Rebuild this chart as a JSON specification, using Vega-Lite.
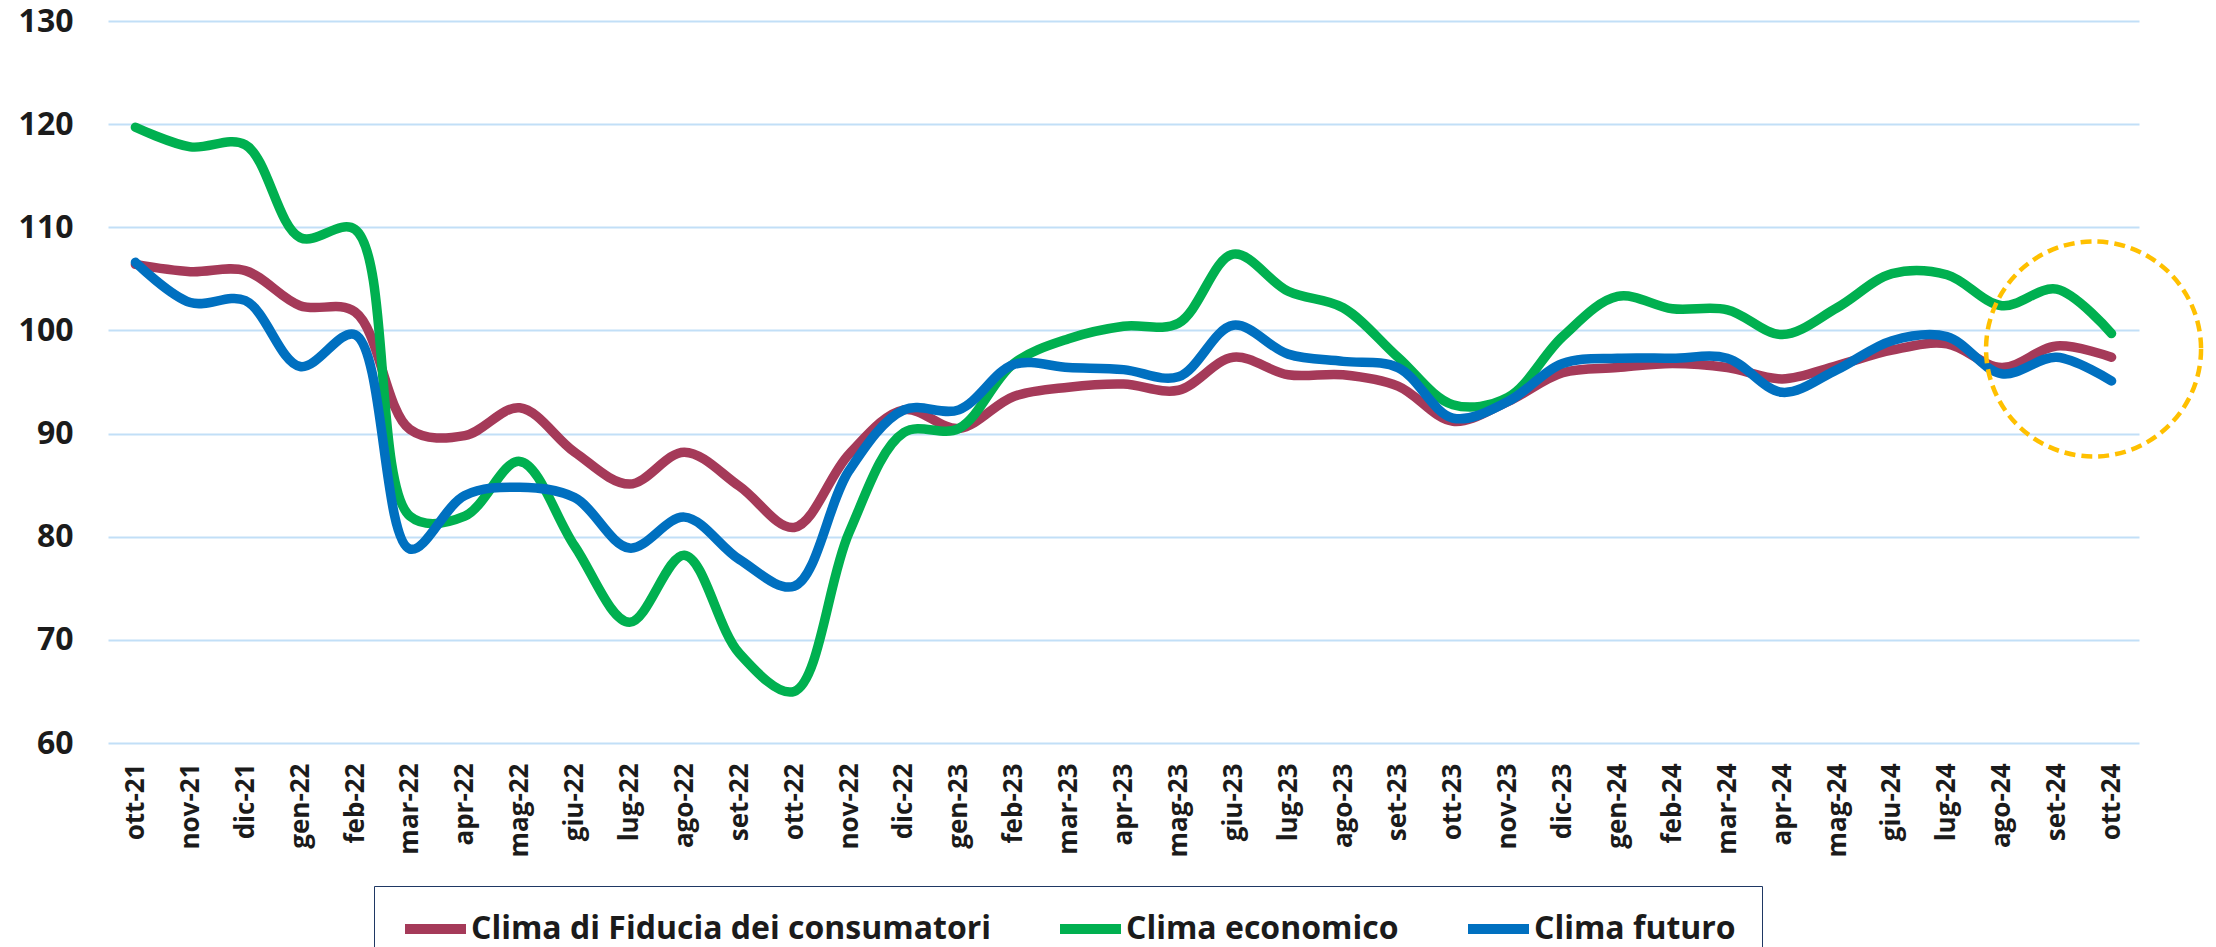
{
  "$schema": "https://vega.github.io/schema/vega-lite/v6.json",
  "autosize": {"type": "none"},
  "width": 2031,
  "height": 722,
  "padding": {"left": 108, "top": 21, "right": 77, "bottom": 204},
  "background": "white",
  "config": {"view": {"stroke": null}},
  "datasets": {
    "serie": [
      {"mese": "ott-21", "serie": "Clima di Fiducia dei consumatori", "valore": 106.4},
      {"mese": "nov-21", "serie": "Clima di Fiducia dei consumatori", "valore": 105.7},
      {"mese": "dic-21", "serie": "Clima di Fiducia dei consumatori", "valore": 105.8},
      {"mese": "gen-22", "serie": "Clima di Fiducia dei consumatori", "valore": 102.4},
      {"mese": "feb-22", "serie": "Clima di Fiducia dei consumatori", "valore": 101.8},
      {"mese": "mar-22", "serie": "Clima di Fiducia dei consumatori", "valore": 90.4},
      {"mese": "apr-22", "serie": "Clima di Fiducia dei consumatori", "valore": 89.8},
      {"mese": "mag-22", "serie": "Clima di Fiducia dei consumatori", "valore": 92.5},
      {"mese": "giu-22", "serie": "Clima di Fiducia dei consumatori", "valore": 88.2},
      {"mese": "lug-22", "serie": "Clima di Fiducia dei consumatori", "valore": 85.1},
      {"mese": "ago-22", "serie": "Clima di Fiducia dei consumatori", "valore": 88.2},
      {"mese": "set-22", "serie": "Clima di Fiducia dei consumatori", "valore": 84.9},
      {"mese": "ott-22", "serie": "Clima di Fiducia dei consumatori", "valore": 80.9},
      {"mese": "nov-22", "serie": "Clima di Fiducia dei consumatori", "valore": 88.0},
      {"mese": "dic-22", "serie": "Clima di Fiducia dei consumatori", "valore": 92.3},
      {"mese": "gen-23", "serie": "Clima di Fiducia dei consumatori", "valore": 90.5},
      {"mese": "feb-23", "serie": "Clima di Fiducia dei consumatori", "valore": 93.6},
      {"mese": "mar-23", "serie": "Clima di Fiducia dei consumatori", "valore": 94.5},
      {"mese": "apr-23", "serie": "Clima di Fiducia dei consumatori", "valore": 94.8},
      {"mese": "mag-23", "serie": "Clima di Fiducia dei consumatori", "valore": 94.2},
      {"mese": "giu-23", "serie": "Clima di Fiducia dei consumatori", "valore": 97.4},
      {"mese": "lug-23", "serie": "Clima di Fiducia dei consumatori", "valore": 95.7},
      {"mese": "ago-23", "serie": "Clima di Fiducia dei consumatori", "valore": 95.7},
      {"mese": "set-23", "serie": "Clima di Fiducia dei consumatori", "valore": 94.6},
      {"mese": "ott-23", "serie": "Clima di Fiducia dei consumatori", "valore": 91.2},
      {"mese": "nov-23", "serie": "Clima di Fiducia dei consumatori", "valore": 93.1},
      {"mese": "dic-23", "serie": "Clima di Fiducia dei consumatori", "valore": 95.9},
      {"mese": "gen-24", "serie": "Clima di Fiducia dei consumatori", "valore": 96.4},
      {"mese": "feb-24", "serie": "Clima di Fiducia dei consumatori", "valore": 96.8},
      {"mese": "mar-24", "serie": "Clima di Fiducia dei consumatori", "valore": 96.4},
      {"mese": "apr-24", "serie": "Clima di Fiducia dei consumatori", "valore": 95.3},
      {"mese": "mag-24", "serie": "Clima di Fiducia dei consumatori", "valore": 96.6},
      {"mese": "giu-24", "serie": "Clima di Fiducia dei consumatori", "valore": 98.1},
      {"mese": "lug-24", "serie": "Clima di Fiducia dei consumatori", "valore": 98.7},
      {"mese": "ago-24", "serie": "Clima di Fiducia dei consumatori", "valore": 96.4},
      {"mese": "set-24", "serie": "Clima di Fiducia dei consumatori", "valore": 98.5},
      {"mese": "ott-24", "serie": "Clima di Fiducia dei consumatori", "valore": 97.4},
      {"mese": "ott-21", "serie": "Clima economico", "valore": 119.7},
      {"mese": "nov-21", "serie": "Clima economico", "valore": 117.8},
      {"mese": "dic-21", "serie": "Clima economico", "valore": 118.0},
      {"mese": "gen-22", "serie": "Clima economico", "valore": 109.0},
      {"mese": "feb-22", "serie": "Clima economico", "valore": 109.8},
      {"mese": "mar-22", "serie": "Clima economico", "valore": 82.0},
      {"mese": "apr-22", "serie": "Clima economico", "valore": 82.0},
      {"mese": "mag-22", "serie": "Clima economico", "valore": 87.3},
      {"mese": "giu-22", "serie": "Clima economico", "valore": 79.1},
      {"mese": "lug-22", "serie": "Clima economico", "valore": 71.7},
      {"mese": "ago-22", "serie": "Clima economico", "valore": 78.2},
      {"mese": "set-22", "serie": "Clima economico", "valore": 68.7},
      {"mese": "ott-22", "serie": "Clima economico", "valore": 65.0},
      {"mese": "nov-22", "serie": "Clima economico", "valore": 80.4},
      {"mese": "dic-22", "serie": "Clima economico", "valore": 90.1},
      {"mese": "gen-23", "serie": "Clima economico", "valore": 90.5},
      {"mese": "feb-23", "serie": "Clima economico", "valore": 96.8},
      {"mese": "mar-23", "serie": "Clima economico", "valore": 99.2},
      {"mese": "apr-23", "serie": "Clima economico", "valore": 100.4},
      {"mese": "mag-23", "serie": "Clima economico", "valore": 100.7},
      {"mese": "giu-23", "serie": "Clima economico", "valore": 107.4},
      {"mese": "lug-23", "serie": "Clima economico", "valore": 103.8},
      {"mese": "ago-23", "serie": "Clima economico", "valore": 102.2},
      {"mese": "set-23", "serie": "Clima economico", "valore": 97.4},
      {"mese": "ott-23", "serie": "Clima economico", "valore": 92.8},
      {"mese": "nov-23", "serie": "Clima economico", "valore": 93.5},
      {"mese": "dic-23", "serie": "Clima economico", "valore": 99.4},
      {"mese": "gen-24", "serie": "Clima economico", "valore": 103.3},
      {"mese": "feb-24", "serie": "Clima economico", "valore": 102.1},
      {"mese": "mar-24", "serie": "Clima economico", "valore": 102.0},
      {"mese": "apr-24", "serie": "Clima economico", "valore": 99.6},
      {"mese": "mag-24", "serie": "Clima economico", "valore": 102.2},
      {"mese": "giu-24", "serie": "Clima economico", "valore": 105.5},
      {"mese": "lug-24", "serie": "Clima economico", "valore": 105.4},
      {"mese": "ago-24", "serie": "Clima economico", "valore": 102.4},
      {"mese": "set-24", "serie": "Clima economico", "valore": 104.0},
      {"mese": "ott-24", "serie": "Clima economico", "valore": 99.7},
      {"mese": "ott-21", "serie": "Clima futuro", "valore": 106.6},
      {"mese": "nov-21", "serie": "Clima futuro", "valore": 102.7},
      {"mese": "dic-21", "serie": "Clima futuro", "valore": 102.9},
      {"mese": "gen-22", "serie": "Clima futuro", "valore": 96.5},
      {"mese": "feb-22", "serie": "Clima futuro", "valore": 99.6},
      {"mese": "mar-22", "serie": "Clima futuro", "valore": 78.8},
      {"mese": "apr-22", "serie": "Clima futuro", "valore": 84.0},
      {"mese": "mag-22", "serie": "Clima futuro", "valore": 84.8},
      {"mese": "giu-22", "serie": "Clima futuro", "valore": 83.8},
      {"mese": "lug-22", "serie": "Clima futuro", "valore": 78.9},
      {"mese": "ago-22", "serie": "Clima futuro", "valore": 81.9},
      {"mese": "set-22", "serie": "Clima futuro", "valore": 77.8},
      {"mese": "ott-22", "serie": "Clima futuro", "valore": 75.2},
      {"mese": "nov-22", "serie": "Clima futuro", "valore": 86.4},
      {"mese": "dic-22", "serie": "Clima futuro", "valore": 92.3},
      {"mese": "gen-23", "serie": "Clima futuro", "valore": 92.3},
      {"mese": "feb-23", "serie": "Clima futuro", "valore": 96.7},
      {"mese": "mar-23", "serie": "Clima futuro", "valore": 96.4},
      {"mese": "apr-23", "serie": "Clima futuro", "valore": 96.2},
      {"mese": "mag-23", "serie": "Clima futuro", "valore": 95.5},
      {"mese": "giu-23", "serie": "Clima futuro", "valore": 100.5},
      {"mese": "lug-23", "serie": "Clima futuro", "valore": 97.7},
      {"mese": "ago-23", "serie": "Clima futuro", "valore": 97.0},
      {"mese": "set-23", "serie": "Clima futuro", "valore": 96.4},
      {"mese": "ott-23", "serie": "Clima futuro", "valore": 91.5},
      {"mese": "nov-23", "serie": "Clima futuro", "valore": 93.1},
      {"mese": "dic-23", "serie": "Clima futuro", "valore": 96.8},
      {"mese": "gen-24", "serie": "Clima futuro", "valore": 97.3},
      {"mese": "feb-24", "serie": "Clima futuro", "valore": 97.3},
      {"mese": "mar-24", "serie": "Clima futuro", "valore": 97.3},
      {"mese": "apr-24", "serie": "Clima futuro", "valore": 94.0},
      {"mese": "mag-24", "serie": "Clima futuro", "valore": 96.2},
      {"mese": "giu-24", "serie": "Clima futuro", "valore": 99.0},
      {"mese": "lug-24", "serie": "Clima futuro", "valore": 99.4},
      {"mese": "ago-24", "serie": "Clima futuro", "valore": 95.8},
      {"mese": "set-24", "serie": "Clima futuro", "valore": 97.4},
      {"mese": "ott-24", "serie": "Clima futuro", "valore": 95.1}
    ],
    "evidenza": [
      {"mese": "ott-24", "valore": 98.2}
    ]
  },
  "layer": [
    {
      "data": {"name": "serie"},
      "mark": {"type": "line", "interpolate": "catmull-rom", "strokeWidth": 9.5, "strokeCap": "round", "strokeJoin": "round"},
      "encoding": {
        "x": {
          "field": "mese", "type": "ordinal", "sort": null,
          "scale": {"type": "point", "padding": 0.5, "domain": ["ott-21", "nov-21", "dic-21", "gen-22", "feb-22", "mar-22", "apr-22", "mag-22", "giu-22", "lug-22", "ago-22", "set-22", "ott-22", "nov-22", "dic-22", "gen-23", "feb-23", "mar-23", "apr-23", "mag-23", "giu-23", "lug-23", "ago-23", "set-23", "ott-23", "nov-23", "dic-23", "gen-24", "feb-24", "mar-24", "apr-24", "mag-24", "giu-24", "lug-24", "ago-24", "set-24", "ott-24"]},
          "axis": {
            "title": null, "domain": false, "ticks": false, "tickSize": 0, "grid": false,
            "labelAngle": -90, "labelPadding": 20,
            "labelFont": "Open Sans", "labelFontSize": 26, "labelFontWeight": "bold", "labelColor": "#1b1b1b"
          }
        },
        "y": {
          "field": "valore", "type": "quantitative",
          "scale": {"domain": [60, 130], "nice": false, "zero": false},
          "axis": {
            "title": null, "domain": false, "ticks": false, "tickSize": 0,
            "values": [60, 70, 80, 90, 100, 110, 120, 130],
            "grid": true, "gridColor": "#C2DFF7", "gridWidth": 2,
            "labelPadding": 35,
            "labelFont": "Open Sans", "labelFontSize": 32, "labelFontWeight": "bold", "labelColor": "#1b1b1b"
          }
        },
        "color": {
          "field": "serie", "type": "nominal",
          "scale": {
            "domain": ["Clima di Fiducia dei consumatori", "Clima economico", "Clima futuro"],
            "range": ["#A53A59", "#00B050", "#0070C0"]
          },
          "legend": {
            "title": null, "orient": "none", "direction": "horizontal",
            "legendX": 266, "legendY": 865,
            "strokeColor": "#1F3864", "fillColor": "white", "padding": 26,
            "symbolType": "stroke", "symbolSize": 3721, "symbolStrokeWidth": 10,
            "labelFont": "Open Sans", "labelFontSize": 32, "labelFontWeight": "bold", "labelColor": "#1b1b1b",
            "labelOffset": 0, "labelLimit": 1000, "columnPadding": 64, "clipHeight": 34
          }
        }
      }
    },
    {
      "data": {"name": "evidenza"},
      "mark": {"type": "point", "shape": "circle", "filled": false, "stroke": "#FFC000", "strokeWidth": 4.5, "strokeDash": [11, 6], "size": 46225, "xOffset": -18, "opacity": 1},
      "encoding": {
        "x": {"field": "mese", "type": "ordinal", "sort": null},
        "y": {"field": "valore", "type": "quantitative"}
      }
    }
  ]
}
